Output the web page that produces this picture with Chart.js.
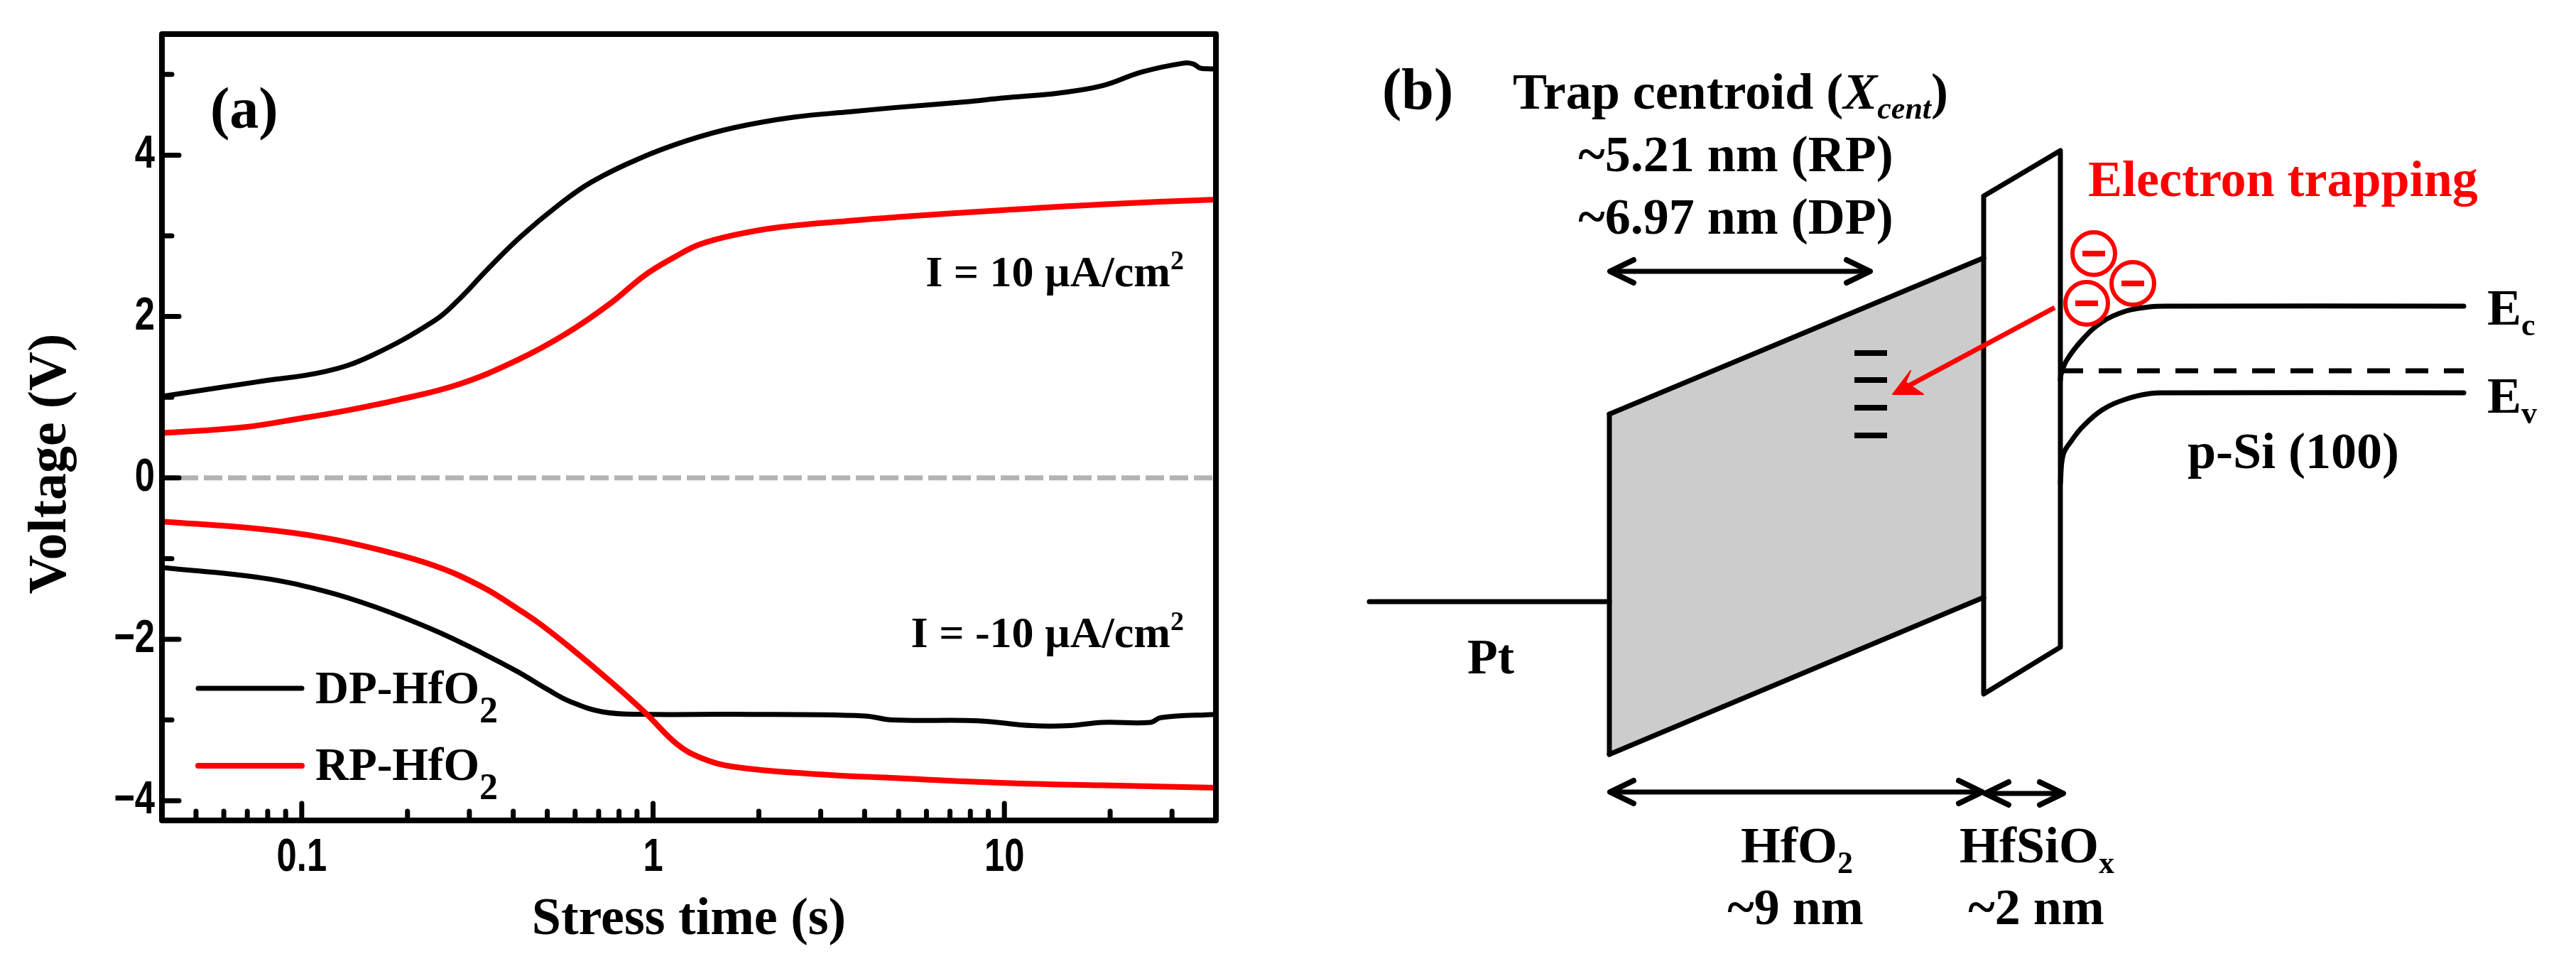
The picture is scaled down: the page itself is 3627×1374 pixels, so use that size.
<!DOCTYPE html>
<html>
<head>
<meta charset="utf-8">
<title>Voltage vs stress time and band diagram</title>
<script src="https://cdn.jsdelivr.net/npm/chart.js@4"></script>
<style>
html, body { margin: 0; padding: 0; background: #fff; }
canvas { position: absolute; top: 0; }
#chartA { left: 0; }
#chartB { left: 1800px; }
</style>
</head>
<body>
<canvas id="chartA" width="1800" height="1374"></canvas>
<canvas id="chartB" width="1827" height="1374"></canvas>
<script>
// panel (a) data
const dpUpTime = [0.04, 0.0746, 0.117, 0.157, 0.239, 0.28, 0.337, 0.42, 0.541, 0.67, 0.916, 1.25, 1.7, 2.51, 3.7, 4.9, 7.7, 10, 14.3, 19, 24.6, 32.4, 34.5, 36, 37.8, 40];
const dpUpVolt = [1.01, 1.19, 1.32, 1.51, 1.95, 2.21, 2.58, 2.99, 3.39, 3.67, 3.96, 4.18, 4.34, 4.47, 4.54, 4.59, 4.66, 4.71, 4.77, 4.86, 5.03, 5.14, 5.13, 5.08, 5.07, 5.07];
const rpUpTime = [0.04, 0.069, 0.1, 0.1286, 0.189, 0.28, 0.411, 0.567, 0.76, 0.946, 1.155, 1.35, 1.7, 2.32, 3.7, 4.9, 10, 19, 40];
const rpUpVolt = [0.556, 0.63, 0.74, 0.82, 0.97, 1.16, 1.46, 1.79, 2.17, 2.51, 2.74, 2.89, 3.01, 3.11, 3.19, 3.23, 3.32, 3.39, 3.45];
const dpDownTime = [0.04, 0.077, 0.1155, 0.162, 0.239, 0.326, 0.411, 0.5, 0.58, 0.72, 0.95, 1.7, 4, 4.8, 8.4, 12, 15.3, 19, 26, 27.9, 40];
const dpDownVolt = [-1.11, -1.24, -1.4, -1.6, -1.89, -2.17, -2.4, -2.62, -2.77, -2.9, -2.93, -2.93, -2.95, -3.0, -3.01, -3.07, -3.07, -3.03, -3.03, -2.97, -2.93];
const rpDownTime = [0.04, 0.0746, 0.1155, 0.162, 0.239, 0.326, 0.411, 0.47, 0.58, 0.76, 0.95, 1.17, 1.37, 1.7, 2.9, 4.9, 10, 19, 40];
const rpDownVolt = [-0.54, -0.63, -0.74, -0.88, -1.09, -1.35, -1.62, -1.79, -2.1, -2.53, -2.91, -3.3, -3.47, -3.58, -3.67, -3.72, -3.78, -3.81, -3.84];
const zeroTime = [0.04, 40];
const zeroVolt = [0, 0];

const xTicks = [0.1, 1, 10];
const xTickLabels = ['0.1', '1', '10'];
const xMinorTicks = [0.05, 0.06, 0.07, 0.08, 0.09, 0.2, 0.3, 0.4, 0.5, 0.6, 0.7, 0.8, 0.9, 2, 3, 4, 5, 6, 7, 8, 9, 20, 30];
const yTicks = [-4, -2, 0, 2, 4];
const yTickLabels = ['\u22124', '\u22122', '0', '2', '4'];
const yMinorTicks = [-3, -1, 1, 3, 5];

// panel (b) shapes, in picture units
const pt = [[1928, 847], [2266, 847]];
const hfo2Top = [[2266, 583], [2793, 363]];
const hfo2Bottom = [[2266, 1062], [2793, 841]];
const hfo2Left = [[2266, 583], [2266, 1062]];
const silicate = [[2793, 276], [2901, 212], [2901, 911], [2793, 977], [2793, 276]];
const centroidArrow = [[2267, 382], [2633, 382]];
const hfo2Arrow = [[2267, 1115], [2791, 1115]];
const silicateArrow = [[2795, 1117], [2905, 1117]];
const ecBand = [[2901, 535], [2902, 527], [2910, 507], [2933, 477], [2960, 453], [2993, 438], [3027, 432], [3053, 431], [3469, 431]];
const evBand = [[2901, 680], [2905, 640], [2917, 620], [2933, 600], [2960, 577], [2993, 562], [3027, 554], [3053, 553], [3469, 553]];
const fermiLevel = [[2901, 522], [3469, 522]];
const trapLevels = [[2634, 497], [2634, 535], [2634, 574], [2634, 613]];
const electrons = [[2948, 357], [3003, 399], [2938, 427]];
const trappingArrow = [[2893, 433], [2680, 547]];
const trappingHead = [[2690, 522], [2665, 555], [2708, 555], [2683, 538], [2690, 522]];

const BLACK = '#000';
const RED = '#ff0000';
const SERIF = '"Liberation Serif", serif';

function pairs(times, volts) {
    return times.map((t, i) => ({ x: t, y: volts[i] }));
}

function curve(times, volts, color, width) {
    return { data: pairs(times, volts), borderColor: color, borderWidth: width, pointRadius: 0, tension: 0.4, borderCapStyle: 'round' };
}

// draws runs of [text, size, shift, italic] from one baseline
function runs(ctx, x, y, parts, align, color) {
    const fontOf = p => (p[3] ? 'italic ' : '') + 'bold ' + p[1] + 'px ' + SERIF;
    let width = 0;
    parts.forEach(p => { ctx.font = fontOf(p); width += ctx.measureText(p[0]).width; });
    let cx = align === 'center' ? x - width / 2 : align === 'right' ? x - width : x;
    ctx.save();
    ctx.fillStyle = color || BLACK;
    ctx.textAlign = 'left';
    ctx.textBaseline = 'alphabetic';
    parts.forEach(p => {
        ctx.font = fontOf(p);
        ctx.fillText(p[0], cx, y + (p[2] || 0));
        cx += ctx.measureText(p[0]).width;
    });
    ctx.restore();
}

// the original tick font is a condensed bold sans
function tickLabel(ctx, text, x, y, align) {
    ctx.save();
    ctx.translate(x, y);
    ctx.scale(0.78, 1);
    ctx.font = 'bold 65px "Liberation Sans", sans-serif';
    ctx.fillStyle = BLACK;
    ctx.textAlign = align;
    ctx.textBaseline = 'middle';
    ctx.fillText(text, 0, 0);
    ctx.restore();
}

const frameAndTicks = {
    id: 'frameAndTicks',
    afterDatasetsDraw(chart) {
        const { ctx, chartArea: a, scales: { x, y } } = chart;
        ctx.save();
        ctx.strokeStyle = BLACK;
        ctx.lineWidth = 7;
        ctx.lineCap = 'round';
        const tick = (x1, y1, x2, y2) => { ctx.beginPath(); ctx.moveTo(x1, y1); ctx.lineTo(x2, y2); ctx.stroke(); };
        xTicks.forEach(v => tick(x.getPixelForValue(v), a.bottom, x.getPixelForValue(v), a.bottom - 24));
        xMinorTicks.forEach(v => tick(x.getPixelForValue(v), a.bottom, x.getPixelForValue(v), a.bottom - 13));
        yTicks.forEach(v => tick(a.left, y.getPixelForValue(v), a.left + 24, y.getPixelForValue(v)));
        yMinorTicks.forEach(v => tick(a.left, y.getPixelForValue(v), a.left + 14, y.getPixelForValue(v)));
        ctx.lineWidth = 8;
        ctx.lineJoin = 'round';
        ctx.strokeRect(a.left, a.top, a.right - a.left, a.bottom - a.top);

        // legend
        ctx.lineWidth = 7;
        ctx.strokeStyle = BLACK;
        tick(279, 969, 425, 969);
        ctx.lineWidth = 8;
        ctx.strokeStyle = RED;
        tick(279, 1078, 425, 1078);
        ctx.restore();

        xTicks.forEach((v, i) => tickLabel(ctx, xTickLabels[i], x.getPixelForValue(v), 1208, 'center'));
        yTicks.forEach((v, i) => tickLabel(ctx, yTickLabels[i], 218, y.getPixelForValue(v), 'right'));

        runs(ctx, 444, 990, [['DP-HfO', 65], ['2', 52, 27]]);
        runs(ctx, 444, 1098, [['RP-HfO', 65], ['2', 52, 27]]);
        runs(ctx, 296, 180, [['(a)', 82]]);
        runs(ctx, 1667, 403, [['I = 10 µA/cm', 62], ['2', 38, -24]], 'right');
        runs(ctx, 1667, 911, [['I = -10 µA/cm', 62], ['2', 38, -24]], 'right');

        ctx.save();
        ctx.translate(92, 653);
        ctx.rotate(-Math.PI / 2);
        runs(ctx, 0, 0, [['Voltage (V)', 76]], 'center');
        ctx.restore();
    }
};

new Chart(document.getElementById('chartA'), {
    type: 'line',
    data: {
        datasets: [
            curve(rpUpTime, rpUpVolt, RED, 8),
            curve(rpDownTime, rpDownVolt, RED, 8),
            curve(dpUpTime, dpUpVolt, BLACK, 7),
            curve(dpDownTime, dpDownVolt, BLACK, 7),
            { data: pairs(zeroTime, zeroVolt), borderColor: '#b3b3b3', borderWidth: 7, pointRadius: 0, borderDash: [26, 8], borderDashOffset: 9 }
        ]
    },
    options: {
        responsive: false,
        animation: false,
        devicePixelRatio: 1,
        layout: { autoPadding: false, padding: { top: 48, right: 1800 - 1712, left: 0, bottom: 0 } },
        plugins: { legend: { display: false }, tooltip: { enabled: false } },
        scales: {
            x: {
                type: 'logarithmic',
                min: 0.04,
                max: 40,
                grid: { display: false },
                border: { display: false },
                afterBuildTicks(scale) { scale.ticks = xTicks.map(v => ({ value: v })); },
                afterFit(scale) { scale.height = 1374 - 1155; },
                ticks: { display: false },
                title: { display: true, text: 'Stress time (s)', color: BLACK, padding: { top: 14, bottom: 34 }, font: { family: SERIF, weight: 'bold', size: 74 } }
            },
            y: {
                min: -4.245,
                max: 5.5,
                grid: { display: false },
                border: { display: false },
                afterBuildTicks(scale) { scale.ticks = yTicks.map(v => ({ value: v })); },
                afterFit(scale) { scale.width = 228; },
                ticks: { display: false }
            }
        }
    },
    plugins: [frameAndTicks]
});

function seg(points, color, width, extra) {
    return Object.assign({
        data: points.map(p => ({ x: p[0], y: p[1] })),
        borderColor: color,
        borderWidth: width,
        pointRadius: 0,
        borderCapStyle: 'round',
        borderJoinStyle: 'round',
        fill: false
    }, extra || {});
}

// open head pointing along x, tip at the given end
function head(tip, dir) {
    return [[tip[0] - dir * 33, tip[1] - 16], tip, [tip[0] - dir * 33, tip[1] + 16]];
}

const diagramText = {
    id: 'diagramText',
    afterDatasetsDraw(chart) {
        const { ctx, scales: { x, y } } = chart;
        const put = (px, py, parts, align, color) => runs(ctx, x.getPixelForValue(px), y.getPixelForValue(py), parts, align, color);
        put(1946, 153, [['(b)', 82]]);
        put(2130, 153, [['Trap centroid (', 72], ['X', 72, 0, true], ['cent', 44, 14, true], [')', 72]]);
        put(2444, 241, [['~5.21 nm (RP)', 72]], 'center');
        put(2444, 329, [['~6.97 nm (DP)', 72]], 'center');
        put(2940, 276, [['Electron trapping', 72]], 'left', RED);
        put(2099, 948, [['Pt', 70]], 'center');
        put(3502, 457, [['E', 72], ['c', 44, 15]]);
        put(3502, 581, [['E', 72], ['v', 44, 15]]);
        put(3080, 659, [['p-Si (100)', 72]]);
        put(2530, 1214, [['HfO', 72], ['2', 44, 15]], 'center');
        put(2528, 1301, [['~9 nm', 72]], 'center');
        put(2868, 1214, [['HfSiO', 72], ['x', 44, 15]], 'center');
        put(2867, 1301, [['~2 nm', 72]], 'center');
    }
};

new Chart(document.getElementById('chartB'), {
    type: 'line',
    data: {
        datasets: [
            seg(electrons, RED, 8, { showLine: false, pointStyle: 'line', pointRadius: 16, pointBorderWidth: 8, pointBorderColor: RED }),
            seg(electrons, RED, 6, { showLine: false, pointStyle: 'circle', pointRadius: 30, pointBorderWidth: 6, pointBorderColor: RED, pointBackgroundColor: 'transparent' }),
            seg(trappingHead, RED, 2, { fill: 'shape', backgroundColor: RED }),
            seg(trappingArrow, RED, 7, { borderCapStyle: 'butt' }),
            seg(trapLevels, BLACK, 8, { showLine: false, pointStyle: 'line', pointRadius: 23, pointBorderWidth: 8, pointBorderColor: BLACK }),
            seg(fermiLevel, BLACK, 7, { borderDash: [32, 22], borderCapStyle: 'butt' }),
            seg(ecBand, BLACK, 7, { tension: 0.4 }),
            seg(evBand, BLACK, 7, { tension: 0.4 }),
            seg(head(silicateArrow[1], 1), BLACK, 8),
            seg(head(silicateArrow[0], -1), BLACK, 8),
            seg(silicateArrow, BLACK, 7),
            seg(head(hfo2Arrow[1], 1), BLACK, 8),
            seg(head(hfo2Arrow[0], -1), BLACK, 8),
            seg(hfo2Arrow, BLACK, 7),
            seg(head(centroidArrow[1], 1), BLACK, 8),
            seg(head(centroidArrow[0], -1), BLACK, 8),
            seg(centroidArrow, BLACK, 7),
            seg(silicate, BLACK, 7),
            seg(pt, BLACK, 7),
            seg(hfo2Left, BLACK, 7),
            seg(hfo2Top, BLACK, 7, { fill: '+1', backgroundColor: '#cdcccd' }),
            seg(hfo2Bottom, BLACK, 7)
        ]
    },
    options: {
        responsive: false,
        animation: false,
        devicePixelRatio: 1,
        layout: { autoPadding: false, padding: 0 },
        plugins: { legend: { display: false }, tooltip: { enabled: false }, filler: { drawTime: 'beforeDatasetsDraw' } },
        scales: {
            x: { type: 'linear', display: false, min: 1800, max: 3627 },
            y: { type: 'linear', display: false, min: 0, max: 1374, reverse: true }
        }
    },
    plugins: [diagramText]
});
</script>
</body>
</html>
